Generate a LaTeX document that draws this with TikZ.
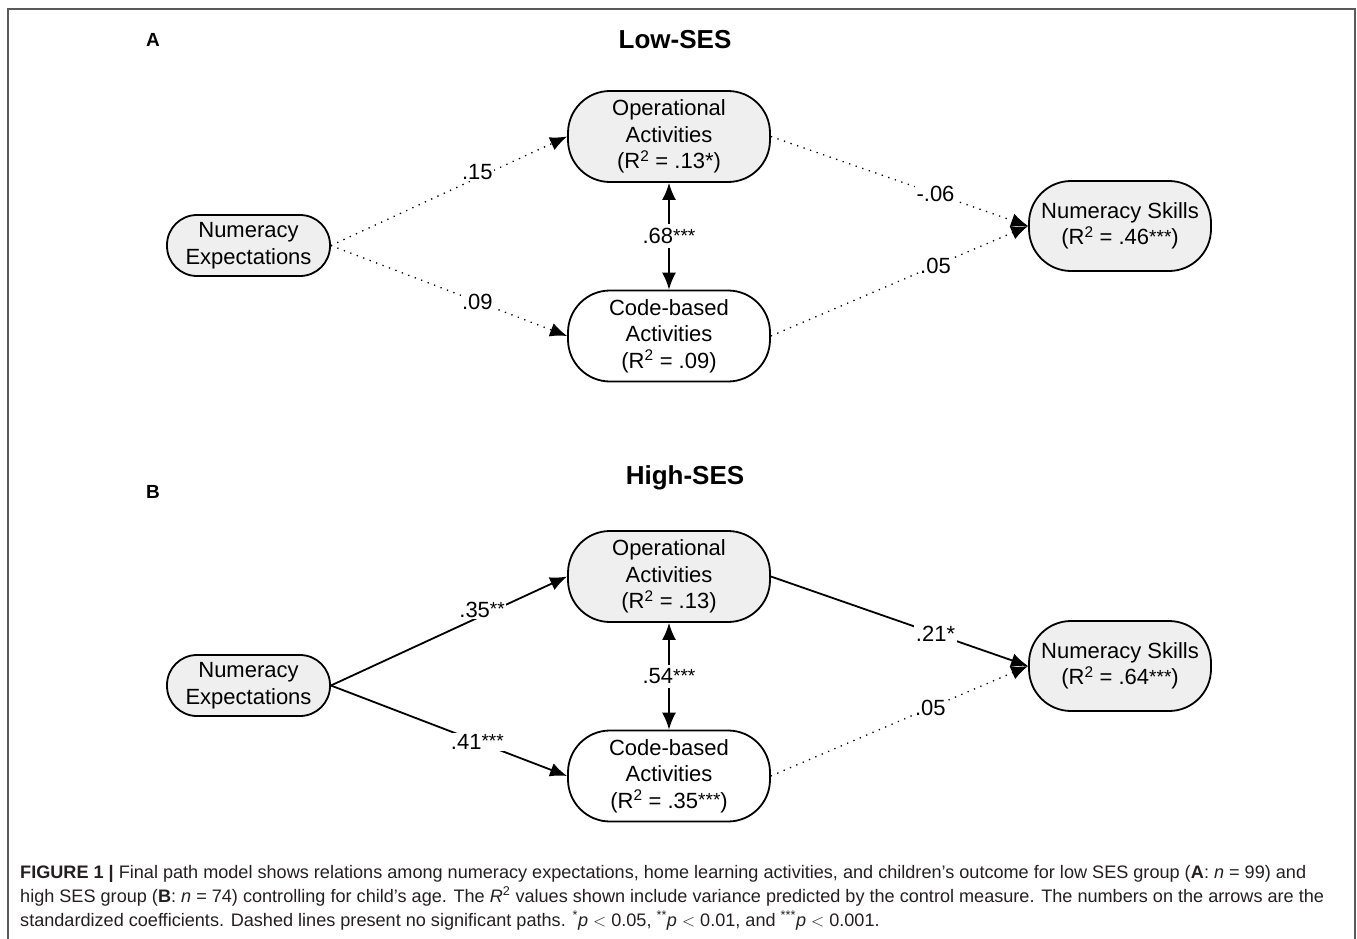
\documentclass[tikz,border=0pt]{standalone}
\usepackage{fontspec}
\setmainfont{Liberation Sans}
\usetikzlibrary{arrows.meta}
\definecolor{nodegray}{HTML}{EFEFEF}
\definecolor{framegray}{HTML}{5A5A5A}
\definecolor{captext}{HTML}{231F20}
\tikzset{
  x=1pt, y=-1pt,
  pill/.style={draw=black, line width=1.8pt, rounded corners=#1, align=center, inner sep=0pt,
    font=\fontsize{22}{26.5}\selectfont},
  pillsize/.style 2 args={minimum width=#1, minimum height=#2},
  grayfill/.style={fill=nodegray},
  whitefill/.style={fill=white},
  conn/.style={line width=1.8pt, -{Latex[length=17pt,width=14pt]}},
  biconn/.style={line width=1.8pt, {Latex[length=17pt,width=14pt]}-{Latex[length=17pt,width=14pt]}},
  dotline/.style={conn, line width=1.3pt, dash pattern=on 1.3pt off 5.6pt},
  lab/.style={fill=white, inner sep=1.5pt, font=\fontsize{22}{24}\selectfont},
  panel/.style={font=\bfseries\fontsize{19}{19}\selectfont},
  title/.style={font=\bfseries\fontsize{26}{26}\selectfont},
  capline/.style={anchor=base west, inner sep=0pt, text=captext, font=\fontsize{18.1}{20}\selectfont},
}
\newcommand{\stars}[1]{\raisebox{1.5pt}{\fontsize{19}{19}\selectfont #1}}
\begin{document}
\begin{tikzpicture}
\useasboundingbox (0,0) rectangle (1357,939);
\draw[framegray, line width=1.6pt] (8,939) -- (8,9) -- (1355,9) -- (1355,939);

% Panel A
\node[panel] (labA) at (153,40) {A};
\node[title] (titA) at (675,40) {Low-SES};
\node[pill=30pt, pillsize={163pt}{61pt}, grayfill] (neA) at (248.5,245.5) {Numeracy\\Expectations};
\node[pill=42pt, pillsize={202pt}{91pt}, grayfill] (opA) at (669,136.5) {Operational\\Activities\\(R\textsuperscript{2} = .13*)};
\node[pill=42pt, pillsize={202pt}{91pt}, whitefill] (cbA) at (669,336) {Code-based\\Activities\\(R\textsuperscript{2} = .09)};
\node[pill=42pt, pillsize={182pt}{90pt}, grayfill] (nsA) at (1120,226) {Numeracy Skills\\(R\textsuperscript{2} = .46\stars{***})};

\draw[dotline] (neA.east) -- node[lab, pos=0.62, yshift=6pt] {.15} (opA.west);
\draw[dotline] (neA.east) -- node[lab, pos=0.62] {.09} (cbA.west);
\draw[dotline] (opA.east) -- node[lab, pos=0.64] {-.06} (nsA.west);
\draw[dotline] (cbA.east) -- node[lab, pos=0.64] {.05} (nsA.west);
\draw[biconn] (opA.south) -- node[lab, inner sep=4pt] {.68\stars{***}} (cbA.north);

% Panel B
\node[panel] (labB) at (153,492) {B};
\node[title] (titB) at (685,478) {High-SES};
\node[pill=30pt, pillsize={163pt}{61pt}, grayfill] (neB) at (248.5,685.5) {Numeracy\\Expectations};
\node[pill=42pt, pillsize={202pt}{91pt}, grayfill] (opB) at (669,576.5) {Operational\\Activities\\(R\textsuperscript{2} = .13)};
\node[pill=42pt, pillsize={202pt}{91pt}, whitefill] (cbB) at (669,776) {Code-based\\Activities\\(R\textsuperscript{2} = .35\stars{***})};
\node[pill=42pt, pillsize={182pt}{90pt}, grayfill] (nsB) at (1120,666) {Numeracy Skills\\(R\textsuperscript{2} = .64\stars{***})};

\draw[conn] (neB.east) -- node[lab, pos=0.64, yshift=6pt] {.35\stars{**}} (opB.west);
\draw[conn] (neB.east) -- node[lab, pos=0.62] {.41\stars{***}} (cbB.west);
\draw[conn] (opB.east) -- node[lab, pos=0.64] {.21*} (nsB.west);
\draw[dotline] (cbB.east) -- node[lab, pos=0.62] {.05} (nsB.west);
\draw[biconn] (opB.south) -- node[lab, inner sep=4pt] {.54\stars{***}} (cbB.north);

% Caption
\node[capline] (cap1) at (20,878) {\textbf{FIGURE 1 |} Final path model shows relations among numeracy expectations, home learning activities, and children’s outcome for low SES group (\textbf{A}: \textit{n} = 99) and};
\node[capline] (cap2) at (20,902) {high SES group (\textbf{B}: \textit{n} = 74) controlling for child’s age. The \textit{R}\textsuperscript{2} values shown include variance predicted by the control measure. The numbers on the arrows are the};
\node[capline] (cap3) at (20,926) {standardized coefficients. Dashed lines present no significant paths. \textsuperscript{*}\textit{p} $<$ 0.05, \textsuperscript{**}\textit{p} $<$ 0.01, and \textsuperscript{***}\textit{p} $<$ 0.001.};
\end{tikzpicture}
\end{document}
